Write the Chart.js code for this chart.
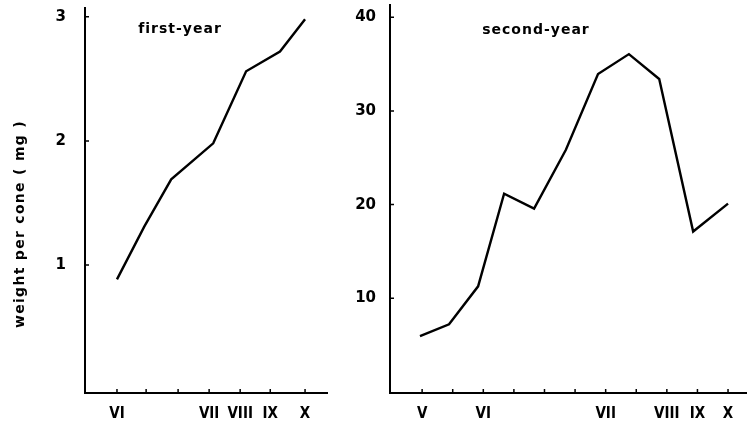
<!DOCTYPE html>
<html>
<head>
<meta charset="utf-8">
<script src="https://cdn.jsdelivr.net/npm/chart.js@4.4.0/dist/chart.umd.min.js"></script>
<style>
  body { margin: 0; background: #fff; width: 747px; height: 424px; overflow: hidden; position: relative; }
  .panel { position: absolute; top: 0; height: 424px; }
  #p1 { left: 0; width: 340px; }
  #p2 { left: 345px; width: 402px; }
</style>
</head>
<body>
<div class="panel" id="p1"><canvas id="c1" width="340" height="424"></canvas></div>
<div class="panel" id="p2"><canvas id="c2" width="402" height="424"></canvas></div>
<script>
// x is in sampling-interval units, 0 = first tick of each panel
const firstTickPos = [0, 0.93, 1.95, 2.94, 3.93, 4.89, 6.0];
const firstTickLabels = ['VI', '', '', 'VII', 'VIII', 'IX', 'X'];
const firstX = [0, 0.87, 1.73, 3.07, 4.12, 5.2, 6.0];
const firstWeight = [0.885, 1.31, 1.69, 1.98, 2.56, 2.72, 2.98];
const firstYTicks = [1, 2, 3];

const secondTickPos = [0, 1, 2, 3, 4, 5, 6, 7, 8, 9, 10];
const secondTickLabels = ['V', '', 'VI', '', '', '', 'VII', '', 'VIII', 'IX', 'X'];
const secondX = [-0.07, 0.88, 1.83, 2.68, 3.66, 4.7, 5.75, 6.76, 7.75, 8.86, 10.0];
const secondWeight = [5.96, 7.23, 11.28, 21.17, 19.57, 25.85, 33.94, 36.06, 33.4, 17.13, 20.1];
const secondYTicks = [10, 20, 30, 40];

const numFont = { family: '"DejaVu Sans", sans-serif', size: 15, weight: 'bold' };
const romanFont = { family: '"Liberation Sans Narrow", "DejaVu Sans Condensed", sans-serif', size: 15, weight: 'bold' };

// little tick marks pointing into the plot
const innerTicks = {
  id: 'innerTicks',
  afterDatasetsDraw(chart) {
    const { ctx, scales: { x, y } } = chart;
    ctx.save();
    ctx.strokeStyle = '#000';
    ctx.lineWidth = 1.5;
    ctx.beginPath();
    x.ticks.forEach(t => {
      const px = x.getPixelForValue(t.value);
      ctx.moveTo(px, x.top);
      ctx.lineTo(px, x.top - 4);
    });
    y.ticks.forEach(t => {
      const py = y.getPixelForValue(t.value);
      ctx.moveTo(y.right, py);
      ctx.lineTo(y.right + 4, py);
    });
    ctx.stroke();
    ctx.restore();
  }
};

// panel caption and y-axis title, spaced out like the original
const panelText = {
  id: 'panelText',
  afterDraw(chart, args, opts) {
    const ctx = chart.ctx;
    ctx.save();
    ctx.fillStyle = '#000';
    ctx.font = 'bold 14px "DejaVu Sans", sans-serif';
    ctx.letterSpacing = '1px';
    ctx.textAlign = 'center';
    ctx.textBaseline = 'middle';
    ctx.fillText(opts.title, opts.titleX, opts.titleY);
    if (opts.yTitle) {
      ctx.letterSpacing = '1.3px';
      ctx.translate(opts.yTitleX, opts.yTitleY);
      ctx.rotate(-Math.PI / 2);
      ctx.fillText(opts.yTitle, 0, 0);
    }
    ctx.restore();
  }
};

function noPad(s) {
  s.paddingTop = 0;
  s.paddingBottom = 0;
  s.paddingLeft = 0;
  s.paddingRight = 0;
}

function makeChart(id, xs, ys, tickPos, tickLabels, yTicks, cfg) {
  return new Chart(document.getElementById(id), {
    type: 'line',
    data: {
      datasets: [{
        data: xs.map((x, i) => ({ x: x, y: ys[i] })),
        borderColor: '#000',
        borderWidth: 2.4,
        pointRadius: 0,
        tension: 0,
        fill: false
      }]
    },
    options: {
      responsive: false,
      animation: false,
      layout: { padding: cfg.padding },
      plugins: {
        legend: { display: false },
        tooltip: { enabled: false },
        panelText: cfg.text
      },
      scales: {
        x: {
          type: 'linear',
          min: cfg.xMin,
          max: cfg.xMax,
          afterBuildTicks: s => { s.ticks = tickPos.map(v => ({ value: v })); },
          afterFit: s => { s.height = 31; noPad(s); },
          grid: { display: false, drawTicks: false },
          border: { display: true, color: '#000', width: 2 },
          ticks: {
            autoSkip: false,
            maxRotation: 0,
            padding: 12,
            color: '#000',
            font: romanFont,
            callback: (v, i) => tickLabels[i]
          }
        },
        y: {
          min: cfg.yMin,
          max: cfg.yMax,
          afterBuildTicks: s => { s.ticks = yTicks.map(v => ({ value: v })); },
          afterFit: s => { s.width = cfg.yWidth; noPad(s); },
          grid: { display: false, drawTicks: false },
          border: { display: true, color: '#000', width: 2 },
          ticks: {
            padding: cfg.yPad,
            color: '#000',
            font: numFont,
            callback: v => v
          }
        }
      }
    },
    plugins: [innerTicks, panelText]
  });
}

makeChart('c1', firstX, firstWeight, firstTickPos, firstTickLabels, firstYTicks, {
  padding: { left: 0, right: 13, top: 8, bottom: 0 },
  xMin: -1.02, xMax: 6.7,
  yMin: -0.03, yMax: 3.07,
  yWidth: 85, yPad: 19,
  text: { title: 'first-year', titleX: 180, titleY: 29,
          yTitle: 'weight per cone ( mg )', yTitleX: 20, yTitleY: 224 }
});

makeChart('c2', secondX, secondWeight, secondTickPos, secondTickLabels, secondYTicks, {
  padding: { left: 0, right: 0, top: 5, bottom: 0 },
  xMin: -1.05, xMax: 10.62,
  yMin: -0.1, yMax: 41.3,
  yWidth: 45, yPad: 14,
  text: { title: 'second-year', titleX: 191, titleY: 30 }
});
</script>
</body>
</html>
